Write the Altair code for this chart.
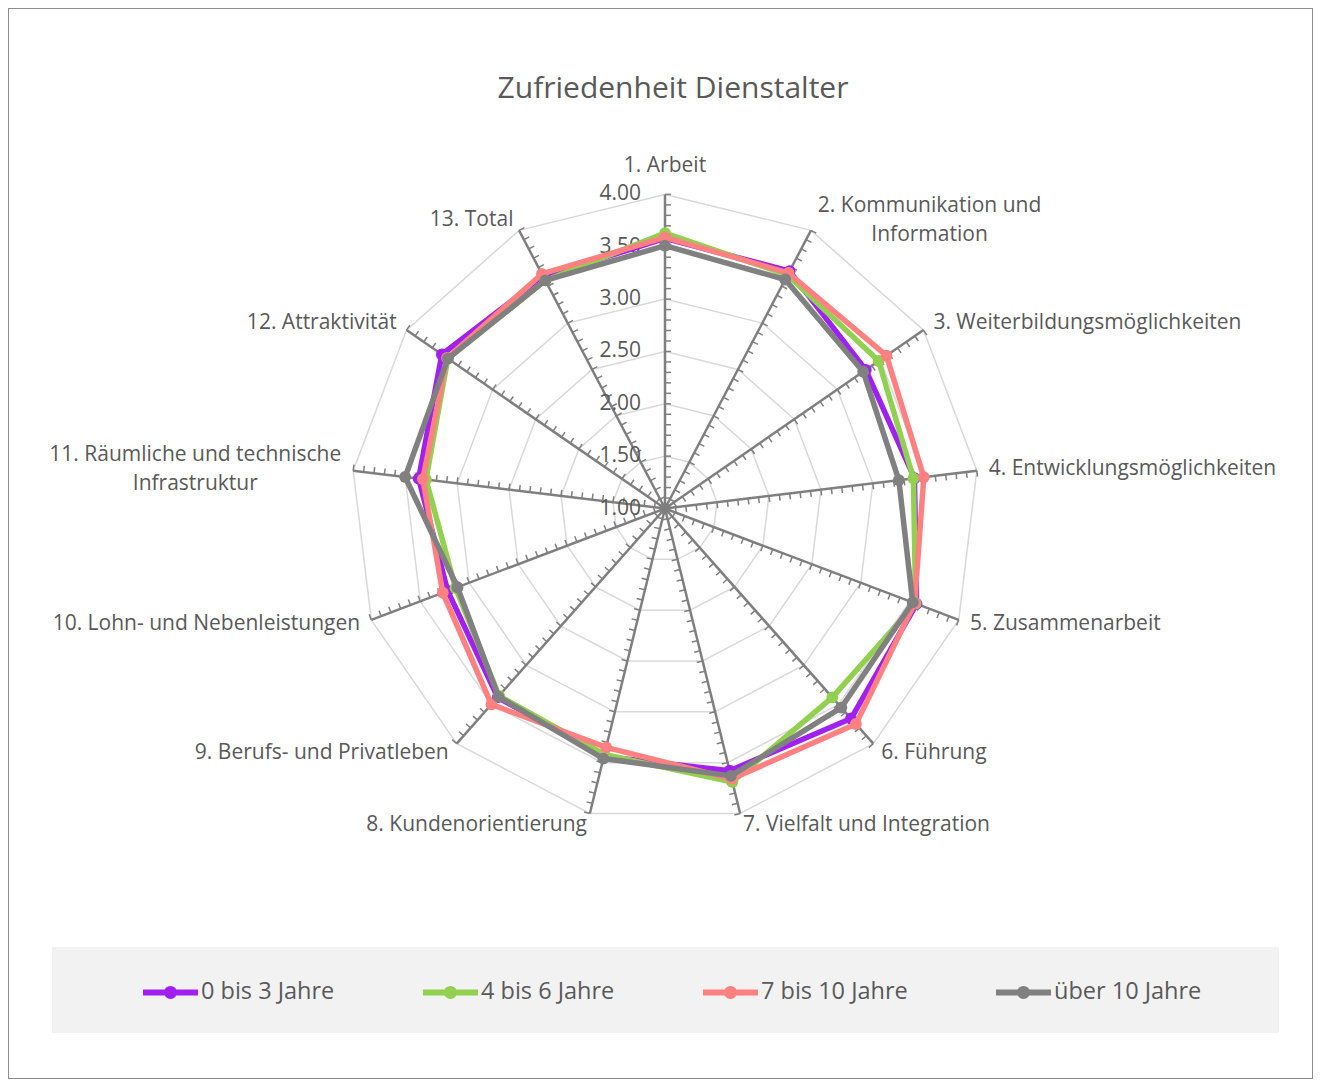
import math
import altair as alt
import pandas as pd

# ---------------- data ----------------
TITLE = "Zufriedenheit Dienstalter"
categories = [
    "1. Arbeit",
    "2. Kommunikation und\nInformation",
    "3. Weiterbildungsmöglichkeiten",
    "4. Entwicklungsmöglichkeiten",
    "5. Zusammenarbeit",
    "6. Führung",
    "7. Vielfalt und Integration",
    "8. Kundenorientierung",
    "9. Berufs- und Privatleben",
    "10. Lohn- und Nebenleistungen",
    "11. Räumliche und technische\nInfrastruktur",
    "12. Attraktivität",
    "13. Total",
]
series_names = ["0 bis 3 Jahre", "4 bis 6 Jahre", "7 bis 10 Jahre", "über 10 Jahre"]
series_colors = ["#A020F0", "#92D050", "#FF8080", "#808080"]

v_0_3 = [3.58, 3.56, 3.33, 3.40, 3.57, 3.68, 3.58, 3.44, 3.41, 3.22, 3.37, 3.59, 3.50]
v_4_6 = [3.63, 3.52, 3.48, 3.39, 3.56, 3.41, 3.69, 3.42, 3.39, 3.14, 3.30, 3.52, 3.46]
v_7_10 = [3.59, 3.54, 3.57, 3.49, 3.55, 3.75, 3.66, 3.35, 3.50, 3.27, 3.33, 3.53, 3.53]
v_10p = [3.51, 3.47, 3.30, 3.25, 3.53, 3.54, 3.63, 3.46, 3.40, 3.12, 3.50, 3.52, 3.46]

grid_levels = [1.5, 2.0, 2.5, 3.0, 3.5, 4.0]
tick_values = [1.0, 1.5, 2.0, 2.5, 3.0, 3.5, 4.0]
tick_labels = ["1.00", "1.50", "2.00", "2.50", "3.00", "3.50", "4.00"]
minor_step = 0.1
r_min, r_max = 1.0, 4.0

# ---------------- layout ----------------
W, H = 1305, 1071
PX = 104.7          # pixels per unit
CX, CY = 657, 500.5 # centre in plot coordinates
XD = [-CX / PX, (W - CX) / PX]
YD = [-(H - CY) / PX, CY / PX]
N = len(categories)
FONT = "Open Sans"
TXT = "#595959"

xs = alt.Scale(domain=XD, nice=False, zero=False)
ys = alt.Scale(domain=YD, nice=False, zero=False)


def X(f):
    return alt.X(f, type="quantitative", scale=xs, axis=None)


def Y(f):
    return alt.Y(f, type="quantitative", scale=ys, axis=None)


polar = dict(
    ang=f"datum.idx * 2 * PI / {N}",
    rr=f"datum.value - {r_min}",
    px="datum.rr * sin(datum.ang)",
    py="datum.rr * cos(datum.ang)",
)

# tables built from the arrays
series_vals = [v_0_3, v_4_6, v_7_10, v_10p]
ser_rows = []
for name, vals in zip(series_names, series_vals):
    for i in range(N + 1):
        ser_rows.append({"series": name, "idx": i, "value": vals[i % N]})
ser_df = pd.DataFrame(ser_rows)

grid_df = pd.DataFrame(
    [{"level": lv, "idx": i, "value": lv} for lv in grid_levels for i in range(N + 1)]
)
spoke_df = pd.DataFrame({"idx": list(range(N)), "value": [r_max] * N})
n_minor = int(round((r_max - r_min) / minor_step))
tick_df = pd.DataFrame(
    [{"idx": i, "value": r_min + k * minor_step} for i in range(N) for k in range(n_minor + 1)]
)
tl_df = pd.DataFrame({"value": tick_values, "label": tick_labels})
cat_df = pd.DataFrame({"idx": list(range(N)), "cat": categories, "value": [r_max] * N})

# ---------------- layers ----------------
grid = (
    alt.Chart(grid_df)
    .transform_calculate(**polar)
    .mark_line(color="#D9D9D9", strokeWidth=1.5)
    .encode(x=X("px"), y=Y("py"), detail="level:N", order="idx:Q")
)

spokes = (
    alt.Chart(spoke_df)
    .transform_calculate(**polar)
    .transform_calculate(ox="0", oy="0")
    .mark_rule(color="#7F7F7F", strokeWidth=2.5)
    .encode(x=X("ox"), y=Y("oy"), x2="px:Q", y2="py:Q")
)

TL = 6 / PX
ticks = (
    alt.Chart(tick_df)
    .transform_calculate(**polar)
    .transform_calculate(
        tx=f"datum.px + {TL} * cos(datum.ang)", ty=f"datum.py - {TL} * sin(datum.ang)"
    )
    .mark_rule(color="#7F7F7F", strokeWidth=1.5)
    .encode(x=X("px"), y=Y("py"), x2="tx:Q", y2="ty:Q")
)

tick_text = (
    alt.Chart(tl_df)
    .transform_calculate(rx="0", ry=f"datum.value - {r_min}")
    .mark_text(align="right", baseline="middle", dx=-24, fontSize=21, font=FONT, color=TXT)
    .encode(x=X("rx"), y=Y("ry"), text="label:N")
)

GAP = 12 / PX
cat_base = (
    alt.Chart(cat_df)
    .transform_calculate(**polar)
    .transform_calculate(
        lx=f"(datum.rr + {GAP}) * sin(datum.ang)", ly=f"(datum.rr + {GAP}) * cos(datum.ang)"
    )
)
tprops = dict(fontSize=21, font=FONT, color=TXT, lineBreak="\n", lineHeight=29, baseline="middle")
enc = dict(x=X("lx"), y=Y("ly"), text="cat:N")
cat_left = cat_base.transform_filter("datum.idx >= 2 && datum.idx <= 6").mark_text(align="left", **tprops).encode(**enc)
cat_right = cat_base.transform_filter("(datum.idx >= 7 && datum.idx <= 9) || datum.idx >= 11").mark_text(align="right", **tprops).encode(**enc)
cat_top = cat_base.transform_filter("datum.idx == 0").mark_text(align="center", dy=-16, **tprops).encode(**enc)
cat_1 = cat_base.transform_filter("datum.idx == 1").mark_text(align="center", dx=113, dy=-14, **tprops).encode(**enc)
cat_10 = cat_base.transform_filter("datum.idx == 10").mark_text(align="center", dx=-146, dy=-14, **tprops).encode(**enc)

cscale = alt.Scale(domain=series_names, range=series_colors)
LEG_PATH = (
    "M-1,0L1,0"
    "M0.07,0A0.07,0.07,0,1,1,-0.07,0A0.07,0.07,0,1,1,0.07,0"
    "M0.13,0A0.13,0.13,0,1,1,-0.13,0A0.13,0.13,0,1,1,0.13,0"
)
legend = alt.Legend(
    title=None,
    orient="none",
    legendX=132,
    legendY=953.5,
    direction="horizontal",
    symbolType=LEG_PATH,
    symbolSize=3025,
    symbolStrokeWidth=6,
    labelFontSize=23.5,
    labelFont=FONT,
    labelColor=TXT,
    labelOffset=0,
    columnPadding=76,
    padding=0,
    labelLimit=400,
)

series_layers = []
for name in series_names:
    base = alt.Chart(ser_df).transform_filter(alt.datum.series == name).transform_calculate(**polar)
    line = base.mark_line(strokeWidth=5.5, strokeJoin="round", strokeCap="round").encode(
        x=X("px"), y=Y("py"), order="idx:Q",
        stroke=alt.Stroke("series:N", scale=cscale, legend=legend),
    )
    pts = base.transform_filter(f"datum.idx < {N}").mark_circle(size=140, opacity=1).encode(
        x=X("px"), y=Y("py"),
        fill=alt.Fill("series:N", scale=cscale, legend=None),
    )
    series_layers += [line, pts]

title = (
    alt.Chart(pd.DataFrame({"t": [TITLE]}))
    .mark_text(fontSize=30, font=FONT, color=TXT, align="center", baseline="middle")
    .encode(x=alt.value(665), y=alt.value(81), text="t:N")
)

legend_bg = (
    alt.Chart(pd.DataFrame({"a": [0]}))
    .mark_rect(color="#F2F2F2")
    .encode(x=alt.value(44), x2=alt.value(1271), y=alt.value(939), y2=alt.value(1025))
)

chart = (
    alt.layer(
        legend_bg, grid, spokes, ticks, tick_text,
        cat_left, cat_right, cat_top, cat_1, cat_10,
        *series_layers, title,
    )
    .properties(width=W, height=H, padding=0, autosize="none")
    .configure_view(stroke="#8C8C8C", strokeWidth=2)
)

chart.save("out.html", embed_options={"renderer": "svg", "actions": False})
